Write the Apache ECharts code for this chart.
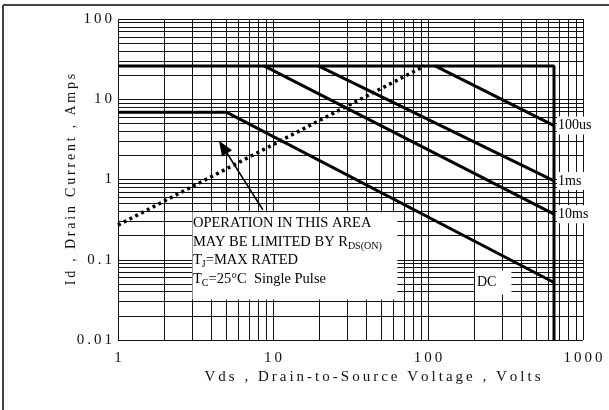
<!DOCTYPE html>
<html><head><meta charset="utf-8">
<script src="https://cdn.jsdelivr.net/npm/echarts@6/dist/echarts.min.js"></script>
<style>html,body{margin:0;padding:0;background:#fff}#c{width:609px;height:410px}</style>
</head><body><div id="c"></div>
<script>
// ---- data ----
const xTickLabels = ['1', '10', '100', '1000'];
const yTickLabels = ['0.01', '0.1', '1', '10', '100'];
const limitLine = [[1, 26], [650, 26], [650, 0.01]];
const dcLine = [[1, 6.9], [5, 6.9], [650, 0.052]];
const line10ms = [[8.75, 26], [650, 0.37]];
const line1ms = [[19.6, 26], [650, 0.96]];
const line100us = [[111, 26], [650, 4.7]];
const rdsLine = [[1, 0.27], [95, 26]];
const arrowLine = [[8.6, 0.42], [4.76, 2.54]];
const pulseLabels = ['100us', '1ms', '10ms'];
const pulseLabelAt = [[650, 4.7], [650, 0.96], [650, 0.37]];
const dcLabel = 'DC';
const dcLabelAt = [201, 0.052];
const noteLines = ['OPERATION IN THIS AREA', 'MAY BE LIMITED BY R{s|DS(ON)}', 'T{s|J}=MAX RATED', 'T{s|C}=25°C  Single Pulse'];
const noteBox = [[3, 0.39], [63, 0.032]];
const xName = 'Vds , Drain-to-Source Voltage , Volts';
const yName = 'Id , Drain Current , Amps';

// grid line values (log decades)
const xGrid = [], yGrid = [];
for (let e = 0; e < 3; e++) for (let m = 1; m < 10; m++) xGrid.push(+(m * Math.pow(10, e)).toPrecision(3));
xGrid.push(1000);
for (let e = -2; e < 2; e++) for (let m = 1; m < 10; m++) yGrid.push(+(m * Math.pow(10, e)).toPrecision(3));
yGrid.push(100);

const SERIF = '"Liberation Serif", "Times New Roman", serif';
const sp = s => s.split('').join('\u2009');
const fmtX = v => { const i = Math.round(Math.log10(v)); return sp(xTickLabels[i] || ''); };
const fmtY = v => { const i = Math.round(Math.log10(v)) + 2; return sp(yTickLabels[i] || ''); };

const chart = echarts.init(document.getElementById('c'), null, {renderer: 'canvas'});
const thick = {color: '#000', width: 3};
const option = {
  animation: false,
  backgroundColor: '#fff',
  grid: {left: 118, right: 26, top: 19, bottom: 70},
  xAxis: {
    type: 'log', logBase: 10, min: 1, max: 1000,
    axisLine: {show: false}, axisTick: {show: false}, splitLine: {show: false},
    axisLabel: {formatter: fmtX, fontFamily: SERIF, fontSize: 15, color: '#111', margin: 11},
    name: sp(xName), nameLocation: 'middle', nameGap: 30, nameMoveOverlap: false,
    nameTextStyle: {fontFamily: SERIF, fontSize: 15, color: '#111', padding: [0, 0, 0, 44]}
  },
  yAxis: {
    type: 'log', logBase: 10, min: 0.01, max: 100,
    axisLine: {show: false}, axisTick: {show: false}, splitLine: {show: false},
    axisLabel: {formatter: fmtY, fontFamily: SERIF, fontSize: 15, color: '#111', margin: 6},
    name: sp(yName), nameLocation: 'middle', nameGap: 40, nameMoveOverlap: false,
    nameTextStyle: {fontFamily: SERIF, fontSize: 14, color: '#111', padding: [0, 0, 0, 0]}
  },
  series: [
    {
      type: 'line', data: [], z: 1, silent: true,
      markLine: {
        silent: true, symbol: ['none', 'none'], animation: false,
        label: {show: false},
        lineStyle: {color: '#111', width: 1, type: 'solid'},
        data: xGrid.map(v => ({xAxis: v})).concat(yGrid.map(v => ({yAxis: v})))
      }
    },
    {type: 'line', data: limitLine, symbol: 'none', lineStyle: thick, z: 5},
    {type: 'line', data: dcLine, symbol: 'none', lineStyle: thick, z: 5},
    {type: 'line', data: line10ms, symbol: 'none', lineStyle: thick, z: 5},
    {type: 'line', data: line1ms, symbol: 'none', lineStyle: thick, z: 5},
    {type: 'line', data: line100us, symbol: 'none', lineStyle: thick, z: 5},
    {type: 'line', data: rdsLine, symbol: 'none', z: 5,
      lineStyle: {color: '#000', width: 3.5, type: [3, 3.5], cap: 'butt'}},
    {type: 'line', data: [], z: 6,
      markLine: {
        silent: true, animation: false, symbol: ['none', 'triangle'], symbolSize: [12, 15],
        label: {show: false}, lineStyle: {color: '#000', width: 1.5, type: 'solid'},
        data: [[{coord: arrowLine[0]}, {coord: arrowLine[1]}]]
      }
    }
  ]
};
chart.setOption(option);

const px = p => chart.convertToPixel({gridIndex: 0}, p);
const g = [];
// outer frame (top and left edges visible in reference)
g.push({type: 'line', shape: {x1: 3, y1: 5, x2: 609, y2: 5}, style: {stroke: '#444', lineWidth: 2}, z: 50});
g.push({type: 'line', shape: {x1: 3, y1: 5, x2: 3, y2: 410}, style: {stroke: '#444', lineWidth: 2}, z: 50});
// note box
const b0 = px(noteBox[0]), b1 = px(noteBox[1]);
g.push({type: 'rect', shape: {x: b0[0] + 0.5, y: b0[1], width: b1[0] - b0[0], height: b1[1] - b0[1]},
  style: {fill: '#fff'}, z: 40});
g.push({type: 'text', x: b0[0] + 1, y: b0[1] + 2, z: 41,
  style: {text: noteLines.join('\n'), font: '14.5px ' + SERIF, fill: '#000', lineHeight: 18.5,
    rich: {s: {fontSize: 10, fontFamily: SERIF, verticalAlign: 'bottom', lineHeight: 18.5, fill: '#000'}}}});
// pulse labels
pulseLabels.forEach((t, i) => {
  const p = px(pulseLabelAt[i]);
  g.push({type: 'text', x: p[0] + 3, y: p[1], z: 42,
    style: {text: t, font: '14px ' + SERIF, fill: '#000', verticalAlign: 'middle', align: 'left',
      backgroundColor: '#fff', padding: [2, 4, 2, 1]}});
});
const d = px(dcLabelAt);
g.push({type: 'text', x: d[0], y: d[1], z: 42,
  style: {text: dcLabel, font: '14px ' + SERIF, fill: '#000', verticalAlign: 'middle', align: 'left',
    backgroundColor: '#fff', padding: [5, 15, 5, 2]}});
chart.setOption({graphic: {elements: g}});
</script></body></html>
